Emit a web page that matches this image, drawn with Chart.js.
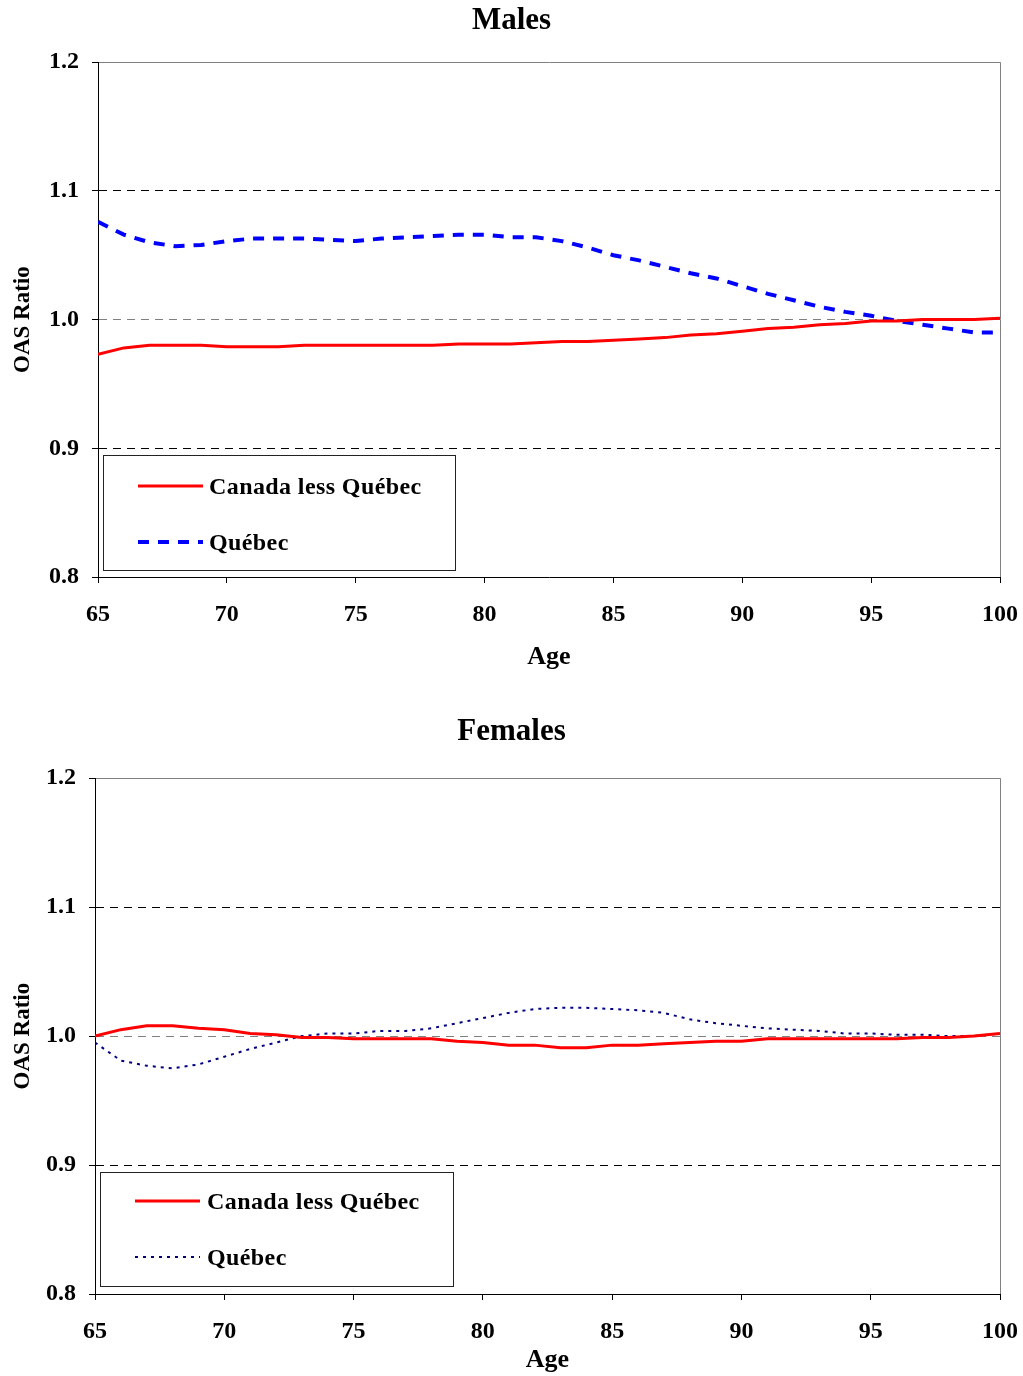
<!DOCTYPE html>
<html>
<head>
<meta charset="utf-8">
<title>OAS Ratio by Age</title>
<script src="https://cdn.jsdelivr.net/npm/chart.js@4.4.1/dist/chart.umd.min.js"></script>
<style>
  body { margin: 0; background: #fff; }
  canvas { display: block; }
</style>
</head>
<body>
<canvas id="malesChart" width="1023" height="690"></canvas>
<canvas id="femalesChart" width="1023" height="686"></canvas>
<script>
// Data (ages 65 to 100)
const ages = [65, 66, 67, 68, 69, 70, 71, 72, 73, 74, 75, 76, 77, 78, 79, 80, 81, 82,
  83, 84, 85, 86, 87, 88, 89, 90, 91, 92, 93, 94, 95, 96, 97, 98, 99, 100];
const xTickValues = [65, 70, 75, 80, 85, 90, 95, 100];
const yTickValues = [0.8, 0.9, 1.0, 1.1, 1.2];
const seriesLabels = ["Canada less Québec", "Québec"];

const malesCanada = [0.973, 0.978, 0.980, 0.980, 0.980, 0.979, 0.979, 0.979, 0.980, 0.980,
  0.980, 0.980, 0.980, 0.980, 0.981, 0.981, 0.981, 0.982, 0.983, 0.983, 0.984, 0.985,
  0.986, 0.988, 0.989, 0.991, 0.993, 0.994, 0.996, 0.997, 0.999, 0.999, 1.000, 1.000,
  1.000, 1.001];
const malesQuebec = [1.076, 1.066, 1.060, 1.057, 1.058, 1.061, 1.063, 1.063, 1.063, 1.062,
  1.061, 1.063, 1.064, 1.065, 1.066, 1.066, 1.064, 1.064, 1.061, 1.056, 1.050, 1.046,
  1.041, 1.036, 1.032, 1.026, 1.020, 1.015, 1.010, 1.006, 1.003, 0.999, 0.996, 0.993,
  0.990, 0.990];

const femalesCanada = [1.000, 1.005, 1.008, 1.008, 1.006, 1.005, 1.002, 1.001, 0.999, 0.999,
  0.998, 0.998, 0.998, 0.998, 0.996, 0.995, 0.993, 0.993, 0.991, 0.991, 0.993, 0.993,
  0.994, 0.995, 0.996, 0.996, 0.998, 0.998, 0.998, 0.998, 0.998, 0.998, 0.999, 0.999,
  1.000, 1.002];
const femalesQuebec = [0.995, 0.981, 0.977, 0.975, 0.978, 0.984, 0.990, 0.995, 1.000, 1.002,
  1.002, 1.004, 1.004, 1.006, 1.010, 1.014, 1.018, 1.021, 1.022, 1.022, 1.021, 1.020,
  1.018, 1.013, 1.010, 1.008, 1.006, 1.005, 1.004, 1.002, 1.002, 1.001, 1.001, 1.000,
  1.000, 1.002];

const FONT = "'Liberation Serif', 'Times New Roman', serif";
Chart.defaults.font.family = FONT;
Chart.defaults.font.weight = "bold";
Chart.defaults.color = "#000";

const SIDE_PAD = 12;

function near(a, b) {
  return a !== undefined && Math.abs(a - b) < 1e-6;
}

// Legend drawn as a boxed panel inside the plot area
const boxLegend = {
  id: "boxLegend",
  afterDraw(chart, args, opts) {
    const { ctx, chartArea } = chart;
    const x = chartArea.left + opts.left;
    const y = chartArea.bottom - opts.bottom - opts.height;
    ctx.save();
    ctx.fillStyle = "#fff";
    ctx.fillRect(x, y, opts.width, opts.height);
    ctx.strokeStyle = "#222";
    ctx.lineWidth = 1;
    ctx.strokeRect(x + 0.5, y + 0.5, opts.width, opts.height);
    chart.data.datasets.forEach((ds, i) => {
      const ly = y + opts.firstRow + i * opts.rowGap;
      ctx.beginPath();
      ctx.setLineDash(ds.borderDash || []);
      ctx.strokeStyle = ds.borderColor;
      ctx.lineWidth = ds.borderWidth;
      ctx.moveTo(x + opts.lineStart, ly);
      ctx.lineTo(x + opts.lineStart + opts.lineLength, ly);
      ctx.stroke();
      ctx.setLineDash([]);
      ctx.fillStyle = "#000";
      ctx.font = "bold 24px " + FONT;
      ctx.letterSpacing = "0.4px";
      ctx.textBaseline = "middle";
      ctx.fillText(ds.label, x + opts.textStart, ly + 2);
    });
    ctx.restore();
  },
};

function toPoints(values) {
  return ages.map((age, i) => ({ x: age, y: values[i] }));
}

function buildChart(canvasId, cfg) {
  const canvas = document.getElementById(canvasId);
  return new Chart(canvas, {
    type: "line",
    data: {
      datasets: [
        {
          label: seriesLabels[0],
          data: toPoints(cfg.canada),
          borderColor: "#ff0000",
          borderWidth: 3,
          pointRadius: 0,
          fill: false,
        },
        {
          label: seriesLabels[1],
          data: toPoints(cfg.quebec),
          borderColor: cfg.quebecColor,
          borderWidth: cfg.quebecWidth,
          borderDash: cfg.quebecDash,
          pointRadius: 0,
          fill: false,
        },
      ],
    },
    options: {
      responsive: false,
      animation: false,
      layout: { padding: { left: SIDE_PAD, right: SIDE_PAD, top: 0, bottom: 0 } },
      plugins: {
        legend: { display: false },
        tooltip: { enabled: false },
        title: {
          display: true,
          text: cfg.title,
          font: { size: 31, weight: "bold" },
          color: "#000",
          padding: cfg.titlePadding,
        },
        boxLegend: cfg.legend,
      },
      scales: {
        x: {
          type: "linear",
          min: 65,
          max: 100,
          afterBuildTicks: (scale) => {
            scale.ticks = xTickValues.map((v) => ({ value: v }));
          },
          afterFit: (scale) => {
            scale.height = cfg.xAxisHeight;
          },
          ticks: {
            // small padding keeps the right edge at 1000; tall line height pushes labels down
            font: { size: 24, weight: "bold", lineHeight: 2.25 },
            padding: 5,
            maxRotation: 0,
          },
          grid: {
            drawOnChartArea: true,
            color: (ctx) => (ctx.tick && ctx.tick.value === 100 ? "#808080" : "rgba(0,0,0,0)"),
            tickColor: "#000",
            tickLength: 6,
          },
          border: { color: "#000", width: 1 },
          title: {
            display: true,
            text: "Age",
            font: { size: 26, weight: "bold" },
            padding: { top: 0, bottom: cfg.ageTitleBottom },
          },
        },
        y: {
          min: 0.8,
          max: 1.2,
          afterBuildTicks: (scale) => {
            scale.ticks = yTickValues.map((v) => ({ value: v }));
          },
          afterFit: (scale) => {
            scale.width = cfg.plotLeft - SIDE_PAD;
          },
          ticks: {
            font: { size: 24, weight: "bold" },
            padding: 13,
            callback: (v) => Number(v).toFixed(1),
          },
          grid: {
            color: (ctx) => {
              const v = ctx.tick && ctx.tick.value;
              if (near(v, 0.8)) return "rgba(0,0,0,0)";
              if (near(v, 1.2) || near(v, 1.0)) return "#808080";
              return "#000";
            },
            tickColor: "#000",
            tickLength: 6,
          },
          border: {
            color: "#000",
            width: 1,
            dash: (ctx) => (ctx.tick && near(ctx.tick.value, 1.2) ? [] : [8, 6]),
          },
          title: {
            display: true,
            text: "OAS Ratio",
            font: { size: 23, weight: "bold", lineHeight: 1 },
            padding: { top: 0, bottom: 0 },
          },
        },
      },
    },
    plugins: [boxLegend],
  });
}

// Males chart
buildChart("malesChart", {
  title: "Males",
  canada: malesCanada,
  quebec: malesQuebec,
  quebecColor: "#0000ff",
  quebecWidth: 4,
  quebecDash: [11, 9],
  titlePadding: { top: 2, bottom: 23 },
  xAxisHeight: 113,
  plotLeft: 98,
  ageTitleBottom: 17,
  legend: {
    left: 5, bottom: 7, width: 352, height: 115,
    firstRow: 31, rowGap: 56, lineStart: 35, lineLength: 65, textStart: 106,
  },
});

// Females chart
buildChart("femalesChart", {
  title: "Females",
  canada: femalesCanada,
  quebec: femalesQuebec,
  quebecColor: "#000080",
  quebecWidth: 2,
  quebecDash: [3, 5],
  titlePadding: { top: 23, bottom: 28 },
  xAxisHeight: 82,
  plotLeft: 95,
  ageTitleBottom: 0,
  legend: {
    left: 5, bottom: 8, width: 353, height: 114,
    firstRow: 29, rowGap: 56, lineStart: 35, lineLength: 65, textStart: 107,
  },
});
</script>
</body>
</html>
